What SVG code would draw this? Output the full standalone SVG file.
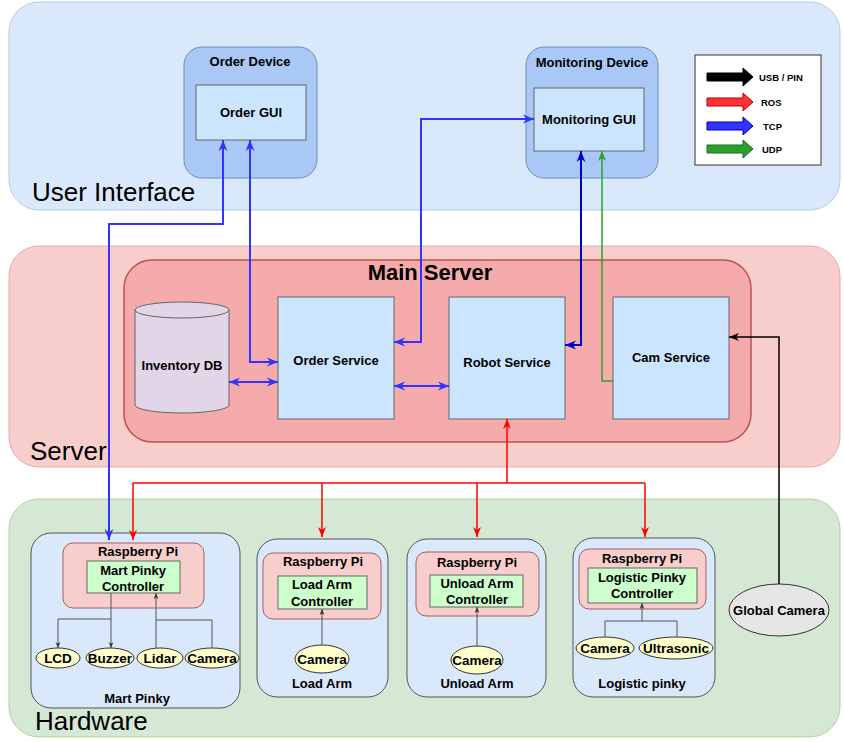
<svg xmlns="http://www.w3.org/2000/svg" width="844" height="742" viewBox="0 0 844 742">
<defs>
<style>
text{font-family:"Liberation Sans",Arial,sans-serif;fill:#000}
.b{font-weight:bold;font-size:13px;text-anchor:middle}
.s{font-size:13.5px}
.sec{font-size:26px}
.box{fill:#cce5ff;stroke:#666;stroke-width:1}
.card{fill:#dae8fc;stroke:#555;stroke-width:1}
.pi{fill:#f8cecc;stroke:#a0605d;stroke-width:1}
.ctl{fill:#ccffcc;stroke:#666;stroke-width:1}
.sen{fill:#ffffcc;stroke:#333;stroke-width:1}
.tcp{fill:none;stroke:#3333ff;stroke-width:2}
.tcp2{fill:none;stroke:#0000cc;stroke-width:2}
.udp{fill:none;stroke:#2ca02c;stroke-width:1.5}
.ros{fill:none;stroke:#ff0000;stroke-width:1.5}
.usb{fill:none;stroke:#000;stroke-width:1.5}
.pin{fill:none;stroke:#555;stroke-width:1}
.lg{font-weight:bold;font-size:9.5px}
</style>
<marker id="aB" viewBox="0 0 10 10" refX="10" refY="5" markerWidth="11" markerHeight="11" markerUnits="userSpaceOnUse" orient="auto-start-reverse"><path d="M0,1 L10,5 L0,9 L3,5 Z" fill="#3333ff"/></marker>
<marker id="aD" viewBox="0 0 10 10" refX="10" refY="5" markerWidth="11" markerHeight="11" markerUnits="userSpaceOnUse" orient="auto-start-reverse"><path d="M0,1 L10,5 L0,9 L3,5 Z" fill="#0000cc"/></marker>
<marker id="aG" viewBox="0 0 10 10" refX="10" refY="5" markerWidth="10" markerHeight="10" markerUnits="userSpaceOnUse" orient="auto-start-reverse"><path d="M0,1 L10,5 L0,9 L3,5 Z" fill="#2ca02c"/></marker>
<marker id="aR" viewBox="0 0 10 10" refX="10" refY="5" markerWidth="10" markerHeight="10" markerUnits="userSpaceOnUse" orient="auto-start-reverse"><path d="M0,1 L10,5 L0,9 L3,5 Z" fill="#ff0000"/></marker>
<marker id="aK" viewBox="0 0 10 10" refX="10" refY="5" markerWidth="10" markerHeight="10" markerUnits="userSpaceOnUse" orient="auto-start-reverse"><path d="M0,1 L10,5 L0,9 L3,5 Z" fill="#000"/></marker>
<marker id="aS" viewBox="0 0 10 10" refX="10" refY="5" markerWidth="6" markerHeight="6" markerUnits="userSpaceOnUse" orient="auto-start-reverse"><path d="M0,1 L10,5 L0,9 L3,5 Z" fill="#333"/></marker>
</defs>

<g id="section-ui">
<rect x="9" y="2" width="831" height="208" rx="30" fill="#dae8fc" stroke="#b3cbe9"/>
<text class="sec" x="32" y="201">User Interface</text>
</g>
<g id="section-server">
<rect x="9" y="246" width="831" height="221" rx="30" fill="#f8cecc" stroke="#eaa9a6"/>
<text class="sec" x="30" y="460">Server</text>
</g>
<g id="section-hardware">
<rect x="9" y="499" width="831" height="238" rx="30" fill="#d5e8d4" stroke="#b2d3a3"/>
<text class="sec" x="35" y="730">Hardware</text>
</g>

<g id="order-device">
<rect x="184" y="47" width="133" height="131" rx="18" fill="#a9c8f5" stroke="#6c8ebf"/>
<text class="b" x="250" y="66">Order Device</text>
</g>
<g id="order-gui">
<rect class="box" x="196" y="85" width="110" height="55"/>
<text class="b" x="251" y="117">Order GUI</text>
</g>
<g id="monitoring-device">
<rect x="526" y="47" width="132" height="131" rx="18" fill="#a9c8f5" stroke="#6c8ebf"/>
<text class="b" x="592" y="67">Monitoring Device</text>
</g>
<g id="monitoring-gui">
<rect class="box" x="534" y="88" width="110" height="63"/>
<text class="b" x="589" y="124">Monitoring GUI</text>
</g>

<g id="legend">
<rect x="695" y="55" width="126" height="110" fill="#fff" stroke="#333"/>
<polygon points="707,73 743,73 743,68 753,77 743,86 743,81 707,81" fill="#000" stroke="#000"/>
<text class="lg" x="759" y="80.5">USB / PIN</text>
<polygon points="707,98 743,98 743,93 753,102 743,111 743,106 707,106" fill="#ff3333" stroke="#b30000"/>
<text class="lg" x="761" y="105.5">ROS</text>
<polygon points="707,122 743,122 743,117 753,126 743,135 743,130 707,130" fill="#3333ff" stroke="#0000aa"/>
<text class="lg" x="763" y="129.5">TCP</text>
<polygon points="707,145 743,145 743,140 753,149 743,158 743,153 707,153" fill="#2ca02c" stroke="#1a6b1a"/>
<text class="lg" x="762" y="152.5">UDP</text>
</g>

<g id="main-server">
<rect x="124" y="260" width="627" height="182" rx="28" fill="#f5abab" stroke="#b85450" stroke-width="1.5"/>
<text x="430" y="280" font-size="22" font-weight="bold" text-anchor="middle">Main Server</text>
</g>
<g id="inventory-db">
<path d="M135,310 a47,8 0 0,1 94,0 L229,405 a47,8 0 0,1 -94,0 Z" fill="#e1d5e7" stroke="#666"/>
<path d="M135,310 a47,8 0 0,0 94,0" fill="none" stroke="#666"/>
<text class="b" x="182" y="370">Inventory DB</text>
</g>
<g id="order-service">
<rect class="box" x="278" y="297" width="116" height="122"/>
<text class="b" x="336" y="365">Order Service</text>
</g>
<g id="robot-service">
<rect class="box" x="449" y="297" width="116" height="122"/>
<text class="b" x="507" y="367">Robot Service</text>
</g>
<g id="cam-service">
<rect class="box" x="613" y="297" width="116" height="122"/>
<text class="b" x="671" y="362">Cam Service</text>
</g>

<g id="mart-pinky">
<rect class="card" x="31" y="533" width="209" height="175" rx="20"/>
<rect class="pi" x="63" y="543" width="141" height="65" rx="10"/>
<text class="b" x="138" y="556">Raspberry Pi</text>
<rect class="ctl" x="87" y="561" width="93" height="32"/>
<text class="b" x="133" y="575">Mart Pinky</text>
<text class="b" x="133" y="591">Controller</text>
<ellipse class="sen" cx="58" cy="658" rx="22" ry="10"/>
<text class="b s" x="58" y="663">LCD</text>
<ellipse class="sen" cx="110" cy="658" rx="24" ry="10"/>
<text class="b s" x="110" y="663">Buzzer</text>
<ellipse class="sen" cx="160" cy="658" rx="23" ry="10"/>
<text class="b s" x="160" y="663">Lidar</text>
<ellipse class="sen" cx="212" cy="658" rx="27" ry="10"/>
<text class="b s" x="212" y="663">Camera</text>
<path class="pin" d="M111,593 V619 H58 V648" marker-end="url(#aS)"/>
<path class="pin" d="M111,619 V648" marker-end="url(#aS)"/>
<path class="pin" d="M156,648 V593" marker-end="url(#aS)"/>
<path class="pin" d="M212,648 V620 H156"/>
<text class="b" x="137" y="703">Mart Pinky</text>
</g>

<g id="load-arm">
<rect class="card" x="257" y="539" width="131" height="158" rx="20"/>
<rect class="pi" x="263" y="553" width="118" height="66" rx="10"/>
<text class="b" x="323" y="566">Raspberry Pi</text>
<rect class="ctl" x="278" y="576" width="89" height="33"/>
<text class="b" x="322" y="589">Load Arm</text>
<text class="b" x="322" y="606">Controller</text>
<ellipse class="sen" cx="322" cy="659" rx="27" ry="14"/>
<text class="b s" x="322" y="664">Camera</text>
<path class="pin" d="M322,645 V609" marker-end="url(#aS)"/>
<text class="b" x="322" y="688">Load Arm</text>
</g>

<g id="unload-arm">
<rect class="card" x="407" y="539" width="139" height="158" rx="20"/>
<rect class="pi" x="416" y="552" width="123" height="64" rx="10"/>
<text class="b" x="477" y="567">Raspberry Pi</text>
<rect class="ctl" x="430" y="575" width="93" height="32"/>
<text class="b" x="477" y="588">Unload Arm</text>
<text class="b" x="477" y="604">Controller</text>
<ellipse class="sen" cx="477" cy="660" rx="26" ry="14"/>
<text class="b s" x="477" y="665">Camera</text>
<path class="pin" d="M477,646 V607" marker-end="url(#aS)"/>
<text class="b" x="477" y="688">Unload Arm</text>
</g>

<g id="logistic-pinky">
<rect class="card" x="573" y="538" width="142" height="159" rx="20"/>
<rect class="pi" x="579" y="549" width="127" height="60" rx="10"/>
<text class="b" x="642" y="563">Raspberry Pi</text>
<rect class="ctl" x="588" y="568" width="109" height="35"/>
<text class="b" x="642" y="582">Logistic Pinky</text>
<text class="b" x="642" y="598">Controller</text>
<ellipse class="sen" cx="605" cy="648" rx="29" ry="11"/>
<text class="b s" x="605" y="653">Camera</text>
<ellipse class="sen" cx="676" cy="648" rx="37" ry="11"/>
<text class="b s" x="676" y="653">Ultrasonic</text>
<path class="pin" d="M605,637 V621 H677 V637"/>
<path class="pin" d="M642,621 V603" marker-end="url(#aS)"/>
<text class="b" x="642" y="688">Logistic pinky</text>
</g>

<g id="global-camera">
<ellipse cx="779" cy="610" rx="50" ry="26" fill="#e6e6e6" stroke="#333"/>
<text class="b" x="779" y="615">Global Camera</text>
</g>

<g id="connectors">
<path class="tcp" d="M223,140 V224 H109 V540" marker-start="url(#aB)" marker-end="url(#aB)"/>
<path class="tcp" d="M250,140 V362 H278" marker-start="url(#aB)" marker-end="url(#aB)"/>
<path class="tcp" d="M394,342 H421 V119 H534" marker-start="url(#aB)" marker-end="url(#aB)"/>
<path class="tcp" d="M229,382 H278" marker-start="url(#aB)" marker-end="url(#aB)"/>
<path class="tcp" d="M394,386 H449" marker-start="url(#aB)" marker-end="url(#aB)"/>
<path class="tcp2" d="M581,151 V345 H565" marker-start="url(#aD)" marker-end="url(#aD)"/>
<path class="udp" d="M613,381 H602 V151" marker-end="url(#aG)"/>
<path class="usb" d="M779,584 V337 H729" marker-end="url(#aK)"/>
<path class="ros" d="M507,483 V419" marker-end="url(#aR)"/>
<path class="ros" d="M133,483 H645"/>
<path class="ros" d="M133,483 V540" marker-end="url(#aR)"/>
<path class="ros" d="M322,483 V537" marker-end="url(#aR)"/>
<path class="ros" d="M477,483 V537" marker-end="url(#aR)"/>
<path class="ros" d="M645,483 V537" marker-end="url(#aR)"/>
</g>
</svg>
